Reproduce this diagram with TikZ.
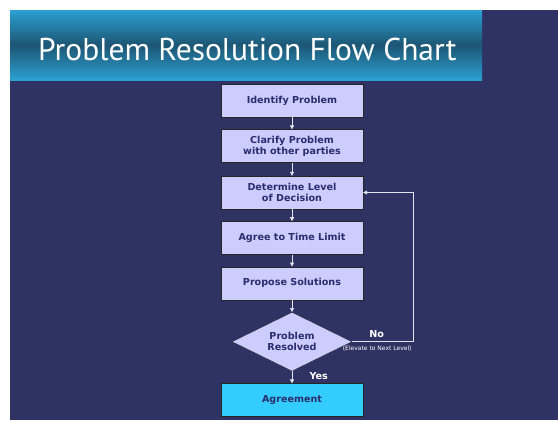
\documentclass[tikz,border=0pt]{standalone}
\usepackage{fontspec}
\usepackage{tikz}
\usetikzlibrary{arrows.meta,positioning,shapes.geometric}
\newfontfamily\headfont{PT Sans}
\newfontfamily\stepfont{DejaVu Sans}
\definecolor{slidebg}{HTML}{2F3364}
\definecolor{boxfill}{HTML}{CCCCFF}
\definecolor{boxtext}{HTML}{2A2D6B}
\definecolor{donefill}{HTML}{33CCFF}
\definecolor{bannerlight}{HTML}{2CA0D2}
\definecolor{bannerdark}{HTML}{1D5674}
\definecolor{flowline}{HTML}{E4E4EC}

\begin{document}
\begin{tikzpicture}[
  x=1pt, y=-1pt,
  node distance=12pt,
  stepbox/.style={draw=black!85, fill=boxfill, minimum width=142pt, minimum height=33pt, align=center, inner sep=1pt, font=\stepfont\bfseries\fontsize{9.6}{11}\selectfont, text=boxtext},
  decide/.style={diamond, aspect=2, draw=black!85, fill=boxfill, minimum width=120pt, minimum height=59pt, inner sep=0pt, align=center, font=\stepfont\bfseries\fontsize{9.6}{11}\selectfont, text=boxtext},
  tag/.style={text=white, font=\stepfont\bfseries\fontsize{9.6}{11}\selectfont},
  arr/.style={-{Triangle[length=4pt, width=4pt]}, draw=flowline, semithick}
]
\useasboundingbox (0,0) rectangle (558,421);
% slide background and title banner
\fill[slidebg] (10,10) rectangle (558,420);
\shade[top color=bannerlight, bottom color=bannerlight, middle color=bannerdark] (10,10) rectangle (482,80);
\node[anchor=base west, text=white, inner sep=0pt, font=\headfont\fontsize{31.5}{38}\selectfont] (title) at (38,60) {Problem Resolution Flow Chart};

% process steps
\node[stepbox, anchor=north] (identify) at (292,84) {Identify Problem};
\node[stepbox, below=of identify] (clarify) {Clarify Problem\\with other parties};
\node[stepbox, below=13pt of clarify] (level) {Determine Level\\of Decision};
\node[stepbox, below=of level] (limit) {Agree to Time Limit};
\node[stepbox, below=of limit] (propose) {Propose Solutions};
\node[decide, below=12pt of propose] (resolved) {Problem\\Resolved};
\node[stepbox, fill=donefill, below=of resolved] (agree) {Agreement};

\draw[arr] (identify) -- (clarify);
\draw[arr] (clarify) -- (level);
\draw[arr] (level) -- (limit);
\draw[arr] (limit) -- (propose);
\draw[arr] (propose) -- (resolved);
\draw[arr] (resolved) -- node[tag, right=14pt, pos=0.35] (yes) {Yes} (agree);

% back to the decision level when not resolved
\coordinate[right=61pt of resolved.east] (loop);
\draw[arr] (resolved.east) -- (loop) |- (level.east);
\node[tag, anchor=south west, inner sep=1pt] (no) at ([xshift=16pt, yshift=3pt]resolved.east) {No};
\node[text=white, anchor=north, inner sep=1pt, font=\stepfont\fontsize{6}{7}\selectfont] (elevate) at ([xshift=25pt, yshift=-3pt]resolved.east) {(Elevate to Next Level)};
\end{tikzpicture}
\end{document}
